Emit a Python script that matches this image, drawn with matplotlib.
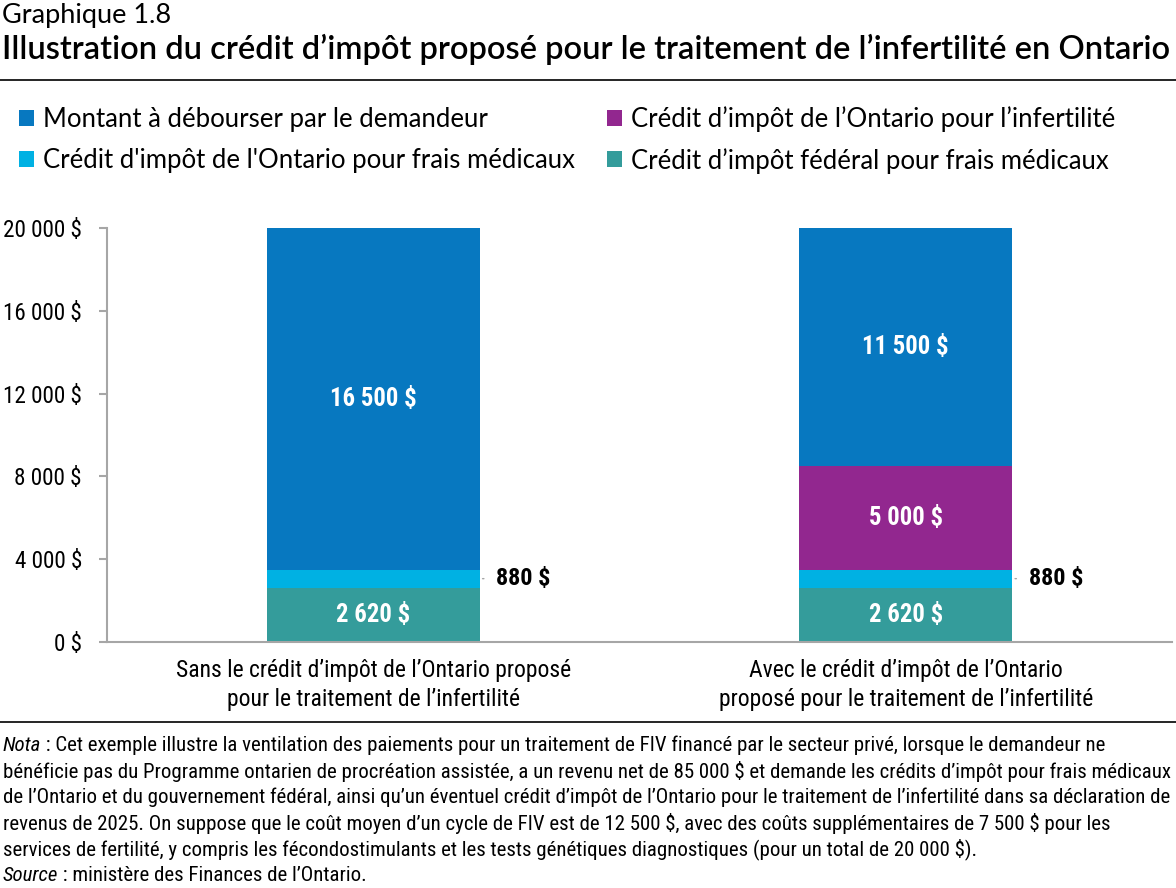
import matplotlib
matplotlib.use("Agg")
import matplotlib.pyplot as plt

categories = ["Sans le crédit d’impôt de l’Ontario proposé\npour le traitement de l’infertilité",
              "Avec le crédit d’impôt de l’Ontario\nproposé pour le traitement de l’infertilité"]
federal = [2620, 2620]
ont_medical = [880, 880]
ont_infert = [0, 5000]
out_of_pocket = [16500, 11500]
yticks = [0, 4000, 8000, 12000, 16000, 20000]
ytick_labels = ["0 $", "4 000 $", "8 000 $", "12 000 $", "16 000 $", "20 000 $"]
series_names = ["Montant à débourser par le demandeur",
                "Crédit d'impôt de l'Ontario pour frais médicaux",
                "Crédit d’impôt de l’Ontario pour l’infertilité",
                "Crédit d’impôt fédéral pour frais médicaux"]

C_BLUE = "#0778C0"
C_LIGHT = "#00B1E3"
C_PURPLE = "#92278F"
C_TEAL = "#349C9B"
GREY = "#A6A6A6"

NARROW = ["Roboto Condensed", "Liberation Sans", "DejaVu Sans"]
TITLEF = ["Lato", "DejaVu Sans"]

fig = plt.figure(figsize=(11.76, 8.88), dpi=100)
ax = fig.add_axes([107/1176, 1-642/888, (1172-107)/1176, (642-228)/888])

x = list(range(len(categories)))
w = 0.4
b1 = ax.bar(x, federal, w, color=C_TEAL)
b2 = ax.bar(x, ont_medical, w, bottom=federal, color=C_LIGHT)
bot3 = [a + b for a, b in zip(federal, ont_medical)]
b3 = ax.bar(x, ont_infert, w, bottom=bot3, color=C_PURPLE)
bot4 = [a + b for a, b in zip(bot3, ont_infert)]
b4 = ax.bar(x, out_of_pocket, w, bottom=bot4, color=C_BLUE)

def fmt(v):
    return f"{v:,.0f}".replace(",", " ") + " $"

lab_kw = dict(ha="center", va="center", color="white", fontsize=17.8, fontweight="bold", family=NARROW)
for i in x:
    ax.text(i, federal[i] / 2, fmt(federal[i]), **lab_kw)
    if ont_infert[i] > 0:
        ax.text(i, bot3[i] + ont_infert[i] / 2, fmt(ont_infert[i]), **lab_kw)
    ax.text(i, bot4[i] + out_of_pocket[i] / 2, fmt(out_of_pocket[i]), **lab_kw)
    ym = federal[i] + ont_medical[i] / 2
    ax.annotate("", xy=(i + w/2, ym), xytext=(5, 0), textcoords="offset points",
                arrowprops=dict(arrowstyle="-", color=GREY, lw=1))
    ax.annotate(fmt(ont_medical[i]), xy=(i + w/2, ym), xytext=(12, 0), textcoords="offset points",
                ha="left", va="center", fontsize=17.5, fontweight="bold", family=NARROW, color="black")

ax.set_xlim(-0.5, 1.5)
ax.set_ylim(0, 20000)
ax.set_yticks(yticks)
ax.set_yticklabels(ytick_labels, family=NARROW, fontsize=16.7)
ax.set_xticks(x)
ax.set_xticklabels(categories, family=NARROW, fontsize=17, linespacing=1.35)
ax.tick_params(axis="x", length=0, pad=12)
ax.tick_params(axis="y", length=6, color=GREY, width=1.5, pad=12)
for s in ["top", "right"]:
    ax.spines[s].set_visible(False)
for s in ["left", "bottom"]:
    ax.spines[s].set_color(GREY)
    ax.spines[s].set_linewidth(1.5)

# titles
fig.text(2/1176, 1-3/888, "Graphique 1.8", ha="left", va="top", fontsize=19.5, family=TITLEF)
fig.text(2/1176, 1-34/888, "Illustration du crédit d’impôt proposé pour le traitement de l’infertilité en Ontario",
         ha="left", va="top", fontsize=23.5, family=TITLEF, fontweight="semibold")
fig.add_artist(plt.Line2D([0, 1], [1-80/888, 1-80/888], color="black", lw=1.2))
fig.add_artist(plt.Line2D([0, 1], [1-722/888, 1-722/888], color="black", lw=1.2))

handles = [b4, b2, b3, b1]
leg = fig.legend(handles, series_names, loc="upper left", bbox_to_anchor=(19/1176, 1-106/888),
                 ncol=2, frameon=False, prop={"family": TITLEF, "size": 18.5},
                 handlelength=0.58, handleheight=0.58, handletextpad=0.36, columnspacing=1.25,
                 labelspacing=0.62, borderaxespad=0, borderpad=0)

note_lines = [
    " : Cet exemple illustre la ventilation des paiements pour un traitement de FIV financé par le secteur privé, lorsque le demandeur ne",
    "bénéficie pas du Programme ontarien de procréation assistée, a un revenu net de 85 000 $ et demande les crédits d’impôt pour frais médicaux",
    "de l’Ontario et du gouvernement fédéral, ainsi qu’un éventuel crédit d’impôt de l’Ontario pour le traitement de l’infertilité dans sa déclaration de",
    "revenus de 2025. On suppose que le coût moyen d’un cycle de FIV est de 12 500 $, avec des coûts supplémentaires de 7 500 $ pour les",
    "services de fertilité, y compris les fécondostimulants et les tests génétiques diagnostiques (pour un total de 20 000 $).",
]
y0 = 745
nk = dict(fontsize=15, family=NARROW, va="center", parse_math=False)
t = fig.text(3/1176, 1-y0/888, "Nota", style="italic", ha="left", **nk)
fig.canvas.draw()
plt.annotate(note_lines[0], xy=(1, 0.5), xycoords=t, ha="left", **nk)
for k, line in enumerate(note_lines[1:], start=1):
    fig.text(3/1176, 1-(y0 + 26*k)/888, line, ha="left", **nk)
t2 = fig.text(3/1176, 1-(y0 + 26*len(note_lines))/888, "Source", style="italic", ha="left", **nk)
plt.annotate(" : ministère des Finances de l’Ontario.", xy=(1, 0.5), xycoords=t2, ha="left", **nk)

fig.savefig("out.png", dpi=100)
